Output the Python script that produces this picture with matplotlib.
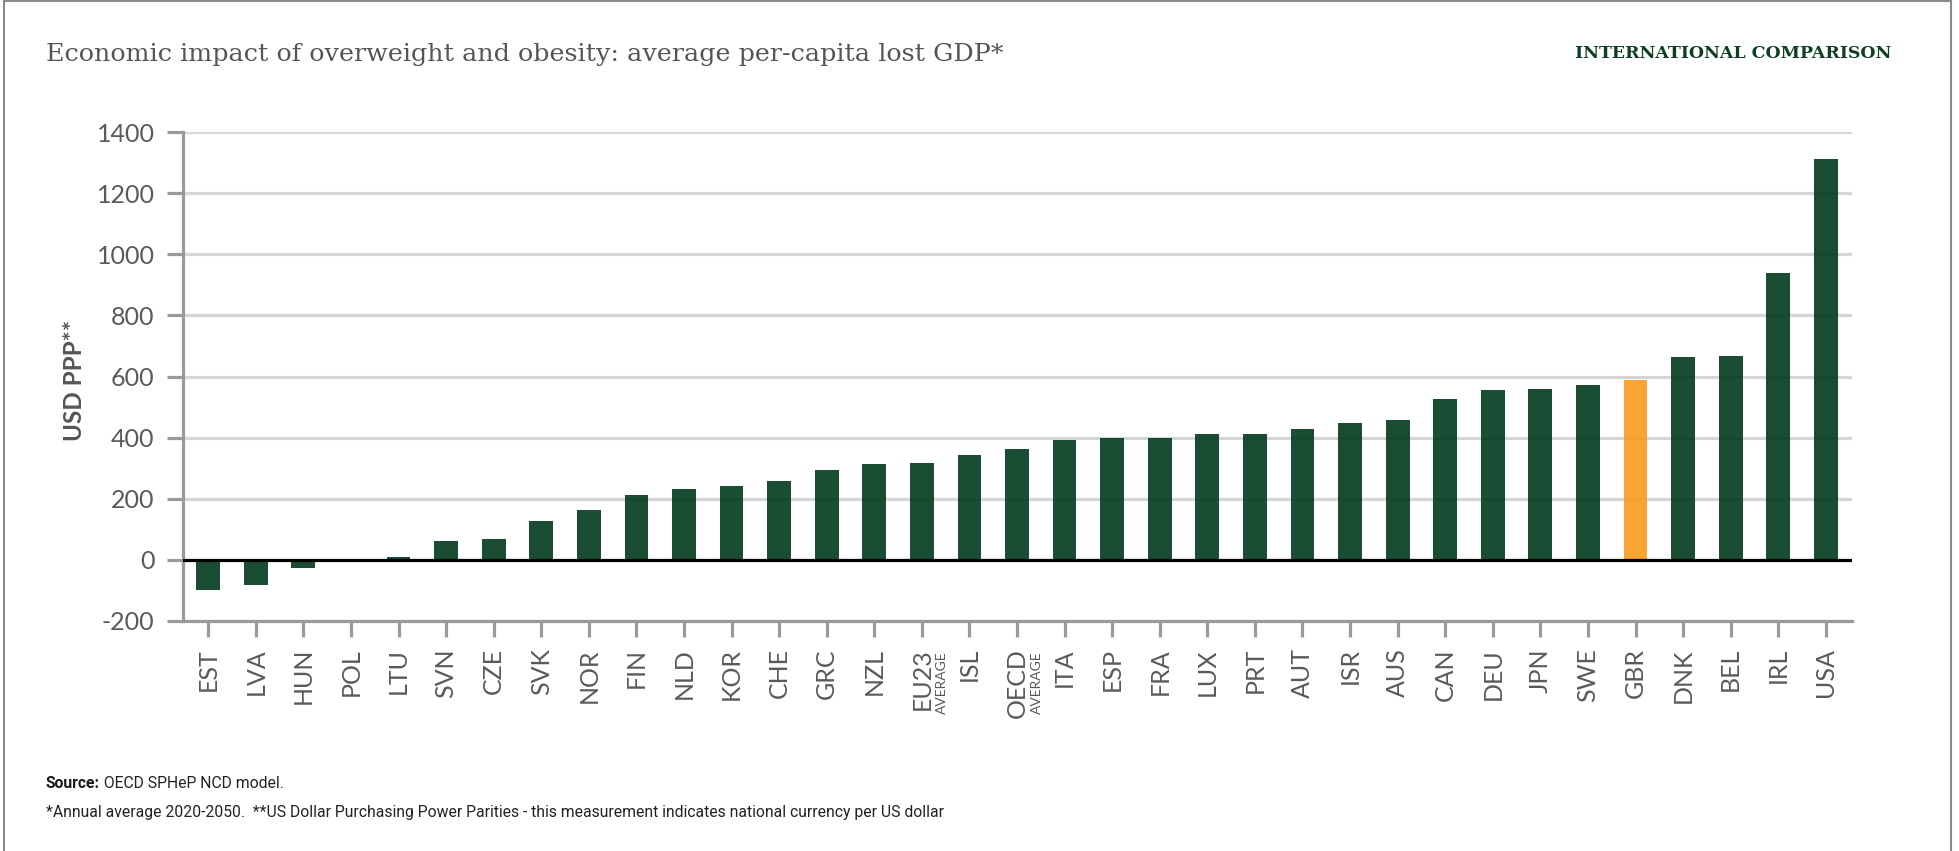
import numpy as np
import matplotlib.pyplot as plt
from matplotlib.lines import Line2D
from matplotlib.transforms import blended_transform_factory, offset_copy

# Data (USD PPP, annual average 2020-2050)
countries = ['EST', 'LVA', 'HUN', 'POL', 'LTU', 'SVN', 'CZE', 'SVK', 'NOR', 'FIN',
             'NLD', 'KOR', 'CHE', 'GRC', 'NZL', 'EU23', 'ISL', 'OECD', 'ITA', 'ESP',
             'FRA', 'LUX', 'PRT', 'AUT', 'ISR', 'AUS', 'CAN', 'DEU', 'JPN', 'SWE',
             'GBR', 'DNK', 'BEL', 'IRL', 'USA']
lost_gdp = [-100, -82, -25, 0, 8, 62, 69, 128, 163, 212,
            233, 241, 257, 294, 314, 318, 343, 363, 392, 400,
            400, 412, 412, 429, 449, 458, 527, 555, 559, 572,
            589, 665, 668, 939, 1312]
highlight = 'GBR'
average_labels = ['EU23', 'OECD']
y_ticks = [-200, 0, 200, 400, 600, 800, 1000, 1200, 1400]

green = '#073d23'
orange = '#f89d21'
grey_text = '#5a5a5a'
axis_grey = '#9a9a9a'

plt.rcParams['font.family'] = ['Lato', 'DejaVu Sans']
plt.rcParams['axes.unicode_minus'] = False

W, H = 1959, 851
fig = plt.figure(figsize=(W / 100, H / 100), dpi=100)
ax = fig.add_axes([183 / W, 1 - 621 / H, (1852 - 183) / W, (621 - 132) / H])

x = np.arange(len(countries))
colors = [orange if c == highlight else green for c in countries]
ax.bar(x, lost_gdp, width=0.5, color=colors, alpha=0.92, zorder=2)
ax.axhline(0, color='black', lw=2.3, zorder=3)

ax.set_ylim(-200, 1400)
ax.set_xlim(-0.53, len(countries) - 1 + 0.55)
ax.set_yticks(y_ticks)
ax.set_xticks(x)
ax.set_xticklabels(countries, rotation=90)

# light horizontal grid behind the bars
ax.yaxis.grid(True, color='#d5d5d5', lw=2.3)
ax.set_axisbelow(True)

for side in ['top', 'right']:
    ax.spines[side].set_visible(False)
for side in ['left', 'bottom']:
    ax.spines[side].set_color(axis_grey)
    ax.spines[side].set_linewidth(2.3)

ax.tick_params(axis='both', length=11.5, width=2.3, color=axis_grey,
               labelcolor=grey_text, labelsize=18)
ax.tick_params(axis='y', pad=9)
ax.tick_params(axis='x', pad=8)

# small "AVERAGE" tag next to the EU23 / OECD labels
trans = offset_copy(blended_transform_factory(ax.transData, ax.transAxes),
                    fig=fig, x=20, y=-30, units='dots')
for lab in average_labels:
    i = countries.index(lab)
    ax.text(i, 0, 'AVERAGE', transform=trans, rotation=90, ha='center', va='top',
            fontsize=10, color=grey_text)

# Titles and labels
fig.text(46 / W, 1 - 55 / H, 'Economic impact of overweight and obesity: average per-capita lost GDP*',
         ha='left', va='center', family='DejaVu Serif', fontsize=18.3, color='#555555')
fig.text(1891 / W, 1 - 53 / H, 'INTERNATIONAL COMPARISON', ha='right', va='center',
         family='DejaVu Serif', fontweight='bold', fontsize=12.5, color='#0d3f22')
fig.text(75 / W, 1 - 380 / H, 'USD PPP**', rotation=90, ha='center', va='center',
         fontweight='bold', fontsize=17.5, color='#555555')

# Source and footnote
src = fig.text(46 / W, 1 - 783 / H, 'Source:', ha='left', va='center',
               family='Roboto', fontweight='bold', fontsize=11.3, color='#1a1a1a')
ax.annotate(' OECD SPHeP NCD model.', xy=(1, 0), xycoords=src, ha='left', va='bottom',
            family='Roboto', fontsize=11.3, color='#222222', annotation_clip=False)
fig.text(46 / W, 1 - 812 / H,
         '*Annual average 2020-2050.  **US Dollar Purchasing Power Parities - this measurement indicates national currency per US dollar',
         ha='left', va='center', family='Roboto', fontsize=11.3, color='#222222')

# thin frame around the panel
frame = dict(color='#8a8a8a', lw=1.5, transform=fig.transFigure)
fig.add_artist(Line2D([4 / W, 4 / W], [0, 1 - 1 / H], **frame))
fig.add_artist(Line2D([4 / W, 1951 / W], [1 - 1 / H, 1 - 1 / H], **frame))
fig.add_artist(Line2D([1951 / W, 1951 / W], [0, 1 - 1 / H], **frame))

fig.savefig('out.png', dpi=100, facecolor='white')
